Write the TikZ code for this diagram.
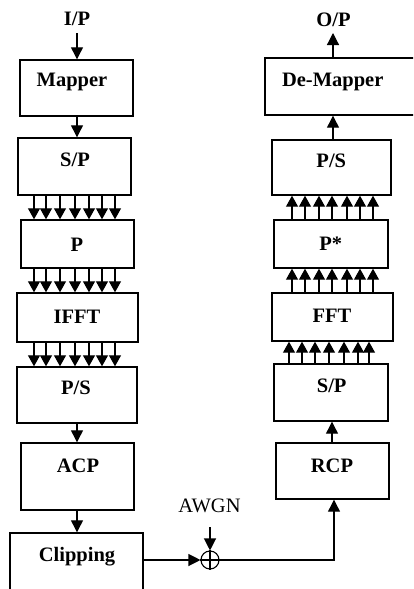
\documentclass[tikz,border=0pt]{standalone}
\usepackage{fontspec}
\setmainfont{Liberation Serif}
\usetikzlibrary{arrows.meta,calc}
\begin{document}
\begin{tikzpicture}[x=1pt,y=-1pt,
  box/.style={draw,line width=1.4pt,inner sep=0pt},
  lbl/.style={inner sep=0pt,text height=13.6pt,text depth=0pt,font=\fontsize{20.5}{24}\selectfont\bfseries},
  plain/.style={inner sep=0pt,text height=13.6pt,text depth=0pt,font=\fontsize{20.5}{24}\selectfont},
  arr/.style={line width=1.2pt,-{Triangle[length=12pt,width=12pt]}},
  marr/.style={line width=1.1pt,-{Triangle[length=11pt,width=12pt]}}]
\useasboundingbox (0,0) rectangle (413,589);
\clip (0,0) rectangle (413,589);
% left column boxes
\node[box,minimum width=113,minimum height=56] (mapper) at (76.5,88) {};
\node[box,minimum width=113,minimum height=57] (spL) at (74.5,166.5) {};
\node[box,minimum width=113,minimum height=48] (pL) at (77.5,244) {};
\node[box,minimum width=121,minimum height=49] (ifft) at (77.5,317.5) {};
\node[box,minimum width=120,minimum height=56] (psL) at (77,395) {};
\node[box,minimum width=113,minimum height=67] (acp) at (77.5,476.5) {};
\node[box,minimum width=133,minimum height=67] (clip) at (76.5,566.5) {};
% right column boxes
\node[box,minimum width=155,minimum height=57] (demap) at (342.5,86.5) {};
\node[box,minimum width=119,minimum height=55] (psR) at (331.5,167.5) {};
\node[box,minimum width=114,minimum height=48] (pstar) at (331,244) {};
\node[box,minimum width=121,minimum height=48] (fft) at (332.5,317) {};
\node[box,minimum width=114,minimum height=57] (spR) at (331,392.5) {};
\node[box,minimum width=113,minimum height=56] (rcp) at (332.5,471) {};
% labels
\node[lbl] (ipT) at (77,19) {I/P};
\node[lbl] (mapperT) at (72,79.5) {Mapper};
\node[lbl] (spLT) at (75,159.5) {S/P};
\node[lbl] (pLT) at (77,244.5) {P};
\node[lbl] (ifftT) at (77,317) {IFFT};
\node[lbl] (psLT) at (76,387.5) {P/S};
\node[lbl] (acpT) at (78,466) {ACP};
\node[lbl] (clipT) at (77,554.5) {Clipping};
\node[lbl] (opT) at (333.5,20) {O/P};
\node[lbl] (demapT) at (332.7,79.5) {De-Mapper};
\node[lbl] (psRT) at (331.3,160.5) {P/S};
\node[lbl] (pstarT) at (330.7,244) {P*};
\node[lbl] (fftT) at (332,316) {FFT};
\node[lbl] (spRT) at (331.7,386) {S/P};
\node[lbl] (rcpT) at (332,466) {RCP};
\node[plain] (awgnT) at (209.5,505.5) {AWGN};
% summing junction
\node[draw,circle,line width=1.1pt,minimum size=18pt,inner sep=0pt] (sum) at (210,560) {};
\draw[line width=1.1pt] (sum.north) -- (sum.south) (sum.west) -- (sum.east);
% left single arrows
\draw[arr] (ipT.south |- 0,33) -- (ipT.south |- mapper.north);
\draw[arr] (mapper.south -| 77,0) -- (spL.north -| 77,0);
\draw[arr] (psL.south -| 77,0) -- (acp.north -| 77,0);
\draw[arr] (acp.south -| 77,0) -- (clip.north -| 77,0);
% left multi arrows
\foreach \x in {34,46,60,75,89,102,115}{
  \draw[marr] (spL.south -| \x,0) -- (pL.north -| \x,0);
  \draw[marr] (pL.south -| \x,0) -- (ifft.north -| \x,0);
  \draw[marr] (ifft.south -| \x,0) -- (psL.north -| \x,0);
}
% right multi arrows
\foreach \x in {289,302,315,329,344,358,369}{
  \draw[marr] (spR.north -| \x,0) -- (fft.south -| \x,0);
}
\foreach \x in {292,305,319,332,347,360,373}{
  \draw[marr] (fft.north -| \x,0) -- (pstar.south -| \x,0);
  \draw[marr] (pstar.north -| \x,0) -- (psR.south -| \x,0);
}
% right single arrows
\draw[arr] (rcp.north -| 332,0) -- (spR.south -| 332,0);
\draw[arr] (psR.north -| 333,0) -- (demap.south -| 333,0);
\draw[arr] (demap.north -| 333,0) -- (333,33);
% channel
\draw[arr] (clip.east |- sum.west) -- (sum.west);
\draw[arr] (210,527) -- (sum.north);
\draw[arr] (sum.east) -| (rcp.south -| 334,0);
\end{tikzpicture}
\end{document}
